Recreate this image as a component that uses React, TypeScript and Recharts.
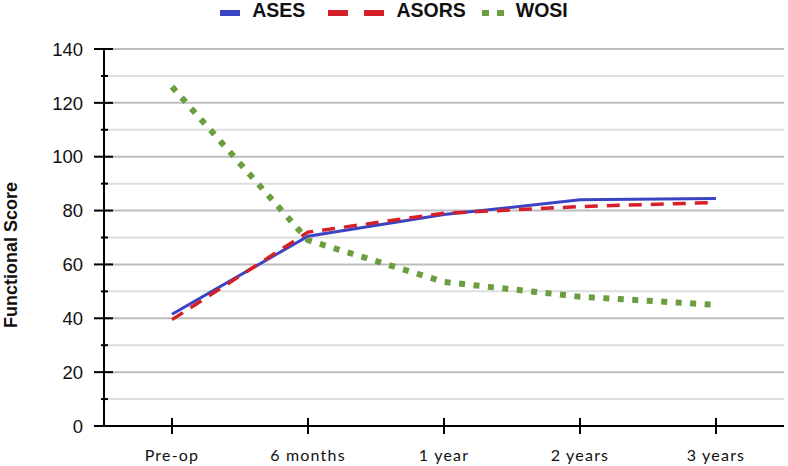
import { CartesianGrid, Legend, Line, LineChart, XAxis, YAxis } from "recharts";

const categories = ["Pre-op", "6 months", "1 year", "2 years", "3 years"];
const asesScores = [41.5, 70.5, 78.5, 84, 84.5];
const asorsScores = [39.5, 72, 79, 81.5, 83];
const wosiScores = [126, 69, 53.5, 48, 45];
const seriesNames = ["ASES", "ASORS", "WOSI"];
const yTicks = [0, 10, 20, 30, 40, 50, 60, 70, 80, 90, 100, 110, 120, 130, 140];

const data = categories.map((name, i) => ({
  name,
  ASES: asesScores[i],
  ASORS: asorsScores[i],
  WOSI: wosiScores[i],
}));

const styles: Record<string, { color: string; width: number; dash?: string; icon: number; iconDash?: string; gap: number }> = {
  ASES: { color: "#3a43c4", width: 3, icon: 20, gap: 0 },
  ASORS: { color: "#d52027", width: 3.5, dash: "13 9", icon: 56, iconDash: "20 16", gap: 23 },
  WOSI: { color: "#6a9e3f", width: 6, dash: "6 8.5", icon: 22, iconDash: "7 8", gap: 16 },
};

const AXIS_X = 104;
const AXIS_Y = 426;

const YTick = ({ y, payload }: any) => {
  const v = payload.value;
  const major = v % 20 === 0;
  return (
    <g>
      <line x1={major ? AXIS_X - 10 : AXIS_X - 3} x2={major ? AXIS_X + 9 : AXIS_X + 4} y1={y} y2={y} stroke="#000" strokeWidth={2} />
      {major && (
        <text x={83} y={y} dy="0.36em" textAnchor="end" fontFamily="'Liberation Sans', Arial" fontSize={18.5} fill="#111">
          {v}
        </text>
      )}
    </g>
  );
};

const XTick = ({ x, payload }: any) => (
  <g>
    <line x1={x} x2={x} y1={AXIS_Y - 8} y2={AXIS_Y + 8} stroke="#000" strokeWidth={2} />
    <text
      x={x}
      y={461}
      textAnchor="middle"
      fontFamily="Lato, 'Open Sans', sans-serif"
      fontSize={16}
      letterSpacing={1.2}
      fill="#111"
    >
      {payload.value}
    </text>
  </g>
);

const GridLine = (props: any) => {
  const { x1, x2, y1, y2, index } = props;
  return (
    <line
      key={props.key}
      x1={x1}
      x2={x2}
      y1={y1}
      y2={y2}
      stroke={index % 2 === 0 ? "#bdbdbd" : "#dedede"}
      strokeWidth={2}
    />
  );
};

const LegendContent = () => (
  <div
    style={{
      display: "flex",
      justifyContent: "center",
      alignItems: "center",
      height: 20,
      fontFamily: "'Liberation Sans', Arial",
      fontWeight: "bold",
      fontSize: 19.5,
      color: "#111",
    }}
  >
    {seriesNames.map((name) => {
      const s = styles[name];
      return (
        <div key={name} style={{ display: "flex", alignItems: "center", marginLeft: s.gap }}>
          <svg width={s.icon} height={6} style={{ display: "block", position: "relative", top: 3 }}>
            <line x1={0} x2={s.icon} y1={3} y2={3} stroke={s.color} strokeWidth={6} strokeDasharray={s.iconDash} />
          </svg>
          <span style={{ marginLeft: 12 }}>{name}</span>
        </div>
      );
    })}
  </div>
);

const YLabel = () => (
  <text
    x={11}
    y={255}
    transform="rotate(-90 11 255)"
    textAnchor="middle"
    dy="0.36em"
    fontFamily="'Liberation Sans', Arial"
    fontWeight="bold"
    fontSize={18}
    fill="#111"
  >
    Functional Score
  </text>
);

export default function App() {
  return (
    <div style={{ position: "absolute", left: 0, top: 0, background: "#fff" }}>
      <LineChart width={788} height={466} data={data} margin={{ top: 29, right: 4, bottom: 0, left: 0 }}>
        <CartesianGrid vertical={false} horizontal={GridLine} />
        <XAxis
          dataKey="name"
          height={40}
          padding={{ left: 68, right: 68 }}
          axisLine={{ stroke: "#000", strokeWidth: 2 }}
          tickLine={false}
          tick={<XTick />}
          interval={0}
        />
        <YAxis
          width={104}
          domain={[0, 140]}
          ticks={yTicks}
          interval={0}
          axisLine={{ stroke: "#000", strokeWidth: 2 }}
          tickLine={false}
          tick={<YTick />}
          label={<YLabel />}
        />
        <Legend verticalAlign="top" content={<LegendContent />} wrapperStyle={{ top: 0, left: 0, width: 788 }} />
        {seriesNames.map((name) => (
          <Line
            key={name}
            type="linear"
            dataKey={name}
            stroke={styles[name].color}
            strokeWidth={styles[name].width}
            strokeDasharray={styles[name].dash}
            dot={false}
            activeDot={false}
            isAnimationActive={false}
          />
        ))}
      </LineChart>
    </div>
  );
}
